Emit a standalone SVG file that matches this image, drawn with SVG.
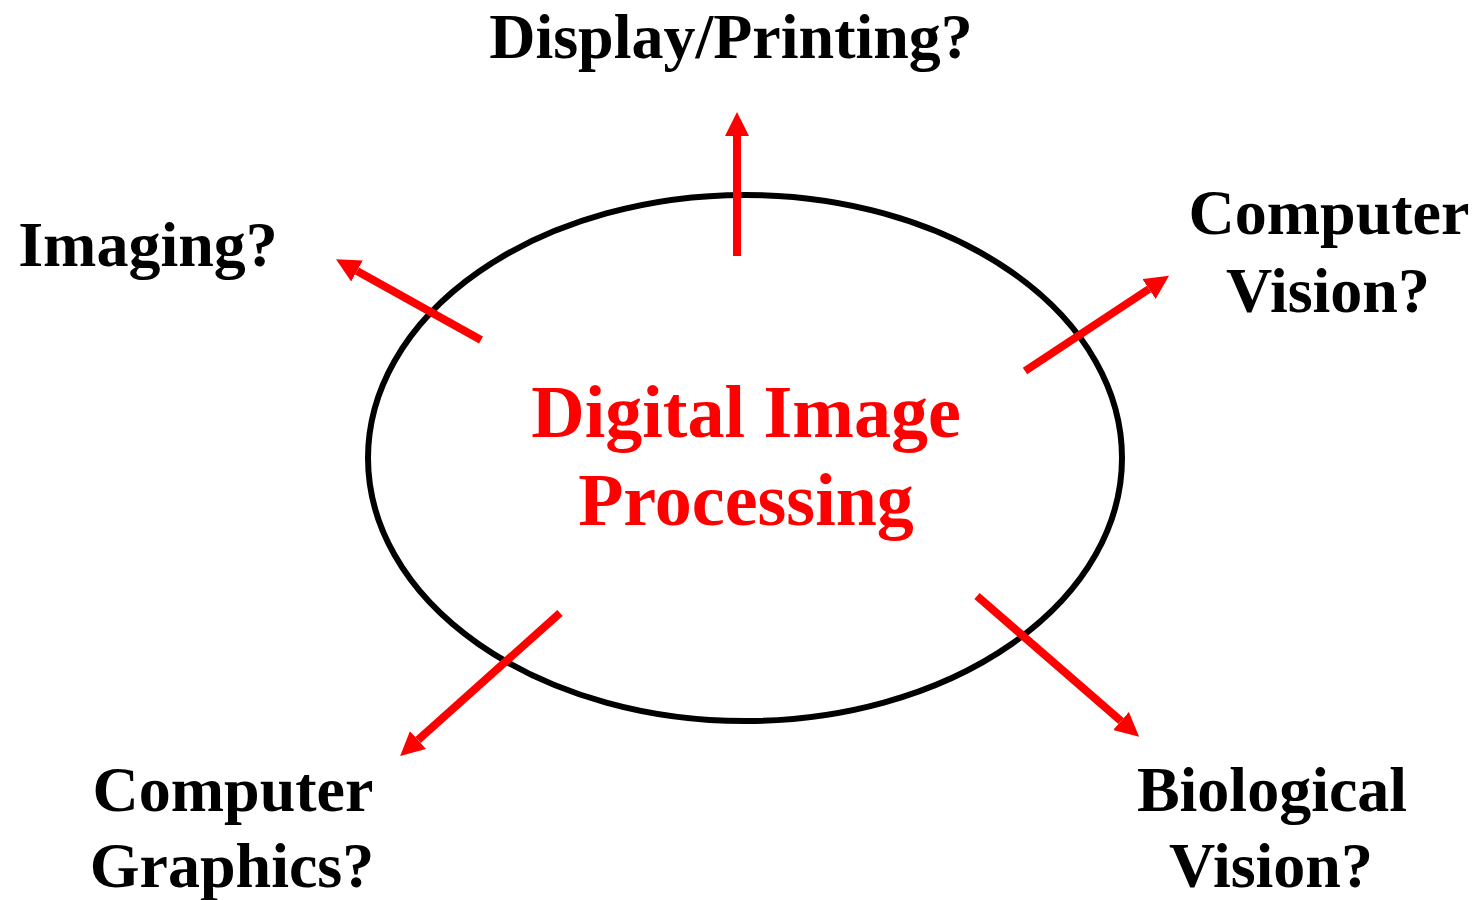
<svg xmlns="http://www.w3.org/2000/svg" width="1478" height="900" viewBox="0 0 1478 900">
  <style>
    .label { font-family: "Liberation Serif", "Times New Roman", serif; font-weight: bold; font-size: 64px; fill: #000; text-anchor: middle; }
    .title { font-family: "Liberation Serif", "Times New Roman", serif; font-weight: bold; font-size: 74px; fill: #ff0000; text-anchor: middle; }
    .arrow { stroke: #ff0000; stroke-width: 8; fill: none; marker-end: url(#head); }
  </style>
  <defs>
    <marker id="head" viewBox="0 0 24 24" markerWidth="24" markerHeight="24" refX="0" refY="12" orient="auto" markerUnits="userSpaceOnUse">
      <path d="M0,0 L24,12 L0,24 Z" fill="#ff0000"/>
    </marker>
  </defs>
  <rect width="1478" height="900" fill="#ffffff"/>

  <!-- central node -->
  <g id="dip">
    <ellipse cx="745" cy="458" rx="377" ry="263" fill="none" stroke="#000" stroke-width="6"/>
    <text class="title" x="746" y="437">Digital Image</text>
    <text class="title" x="746" y="525">Processing</text>
  </g>

  <!-- connectors -->
  <g id="connectors">
    <line class="arrow" x1="737" y1="256" x2="737" y2="136"/>
    <line class="arrow" x1="481" y1="340" x2="357" y2="271"/>
    <line class="arrow" x1="1025" y1="371" x2="1149" y2="289"/>
    <line class="arrow" x1="560" y1="613" x2="418" y2="740"/>
    <line class="arrow" x1="977" y1="596" x2="1121" y2="721"/>
  </g>

  <g id="display-printing">
    <text class="label" x="731" y="58">Display/Printing?</text>
  </g>
  <g id="imaging">
    <text class="label" x="148" y="266">Imaging?</text>
  </g>
  <g id="computer-vision">
    <text class="label" x="1329" y="234">Computer</text>
    <text class="label" x="1328" y="312">Vision?</text>
  </g>
  <g id="computer-graphics">
    <text class="label" x="233" y="811">Computer</text>
    <text class="label" x="232" y="887">Graphics?</text>
  </g>
  <g id="biological-vision">
    <text class="label" x="1272" y="811">Biological</text>
    <text class="label" x="1271" y="887">Vision?</text>
  </g>
</svg>
